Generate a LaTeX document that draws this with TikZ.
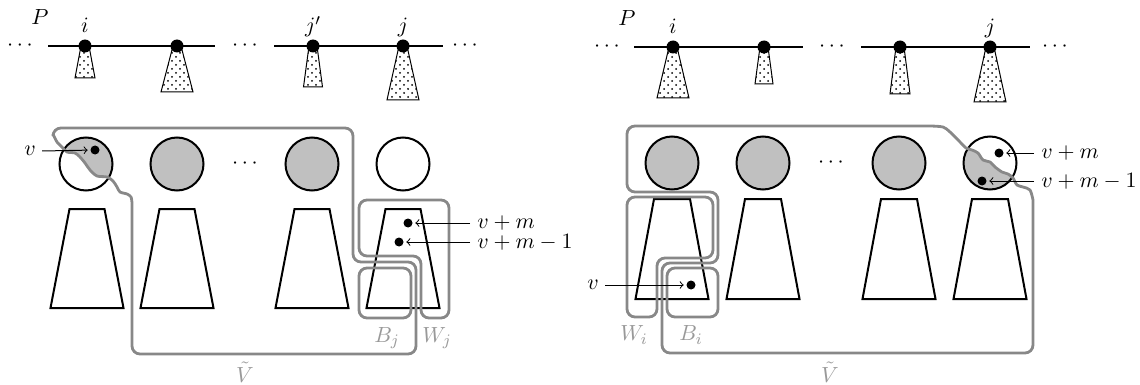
\documentclass[tikz,border=0pt,11pt]{standalone}
\usetikzlibrary{patterns}
\pgfdeclarepatternformonly{sdots}{\pgfqpoint{-0.6pt}{-0.6pt}}{\pgfqpoint{4.6pt}{4.6pt}}{\pgfqpoint{4pt}{4pt}}{%
 \pgfpathcircle{\pgfqpoint{0pt}{0pt}}{0.5pt}\pgfpathcircle{\pgfqpoint{2pt}{2pt}}{0.5pt}\pgfusepath{fill}}
\definecolor{gline}{HTML}{888888}
\definecolor{glabel}{HTML}{999999}
\definecolor{cfill}{HTML}{C0C0C0}
\begin{document}
\begin{tikzpicture}[x=0.5pt,y=-0.5pt,
 pline/.style={line width=1pt},
 pnode/.style={circle,fill=black,inner sep=0pt,minimum size=6.5pt},
 tree/.style={draw,line width=0.5pt,pattern=sdots},
 bigc/.style={circle,draw,line width=1pt,inner sep=0pt,minimum size=26.5pt},
 gc/.style={bigc,fill=cfill},
 trap/.style={draw,line width=1pt,line join=miter},
 sdot/.style={circle,fill=black,inner sep=0pt,minimum size=4.5pt},
 gbox/.style={draw=gline,line width=1.4pt,rounded corners=4pt},
 gwig/.style={draw=gline,line width=1.4pt},
 glab/.style={text=glabel,inner sep=1pt},
 tlab/.style={inner sep=1pt},
 arr/.style={->,line width=0.5pt,shorten >=1.2pt},
]
\useasboundingbox (0,0) rectangle (1140,385);

% ================= LEFT PANEL =================
\node[tlab] (ld1) at (20,46) {$\cdots$};
\node[tlab] (ld2) at (245,46) {$\cdots$};
\node[tlab] (ld3) at (465,46) {$\cdots$};
\coordinate (la1) at (48,46); \coordinate (lb1) at (215,46);
\coordinate (la2) at (274,46); \coordinate (lb2) at (443,46);
\draw[pline] (la1) -- (lb1);
\draw[pline] (la2) -- (lb2);
\foreach \x/\w/\b in {85/20/78, 177/32/92, 313/19/87, 403/32/100}
  \draw[tree] (\x-4,46) -- (\x+4,46) -- (\x+\w/2,\b) -- (\x-\w/2,\b) -- cycle;
\node[pnode] (lp1) at (85,46) {};
\node[pnode] (lp2) at (177,46) {};
\node[pnode] (lp3) at (313,46) {};
\node[pnode] (lp4) at (403,46) {};
\node[tlab,anchor=base] (lP) at (40,25) {$P$};
\node[tlab,anchor=base] (li) at (85,33) {$i$};
\node[tlab,anchor=base] (ljp) at (313,33) {$j'$};
\node[tlab,anchor=base] (lj) at (403,33) {$j$};

% circles
\begin{scope}
 \clip (86,164) circle[radius=13.25pt];
 \fill[cfill] plot[smooth] coordinates {(53,134) (57,142) (62,147) (67,152) (75,153) (80,157) (85,163) (90,170) (97,176) (107,177) (113,181) (117,187) (120,192) (127,194) (131,197) (132,203)}
   -- (160,203) -- (160,110) -- (53,110) -- cycle;
\end{scope}
\node[bigc] (lc1) at (86,164) {};
\node[gc] (lc2) at (177,164) {};
\node[tlab] (lcd) at (245,164) {$\cdots$};
\node[gc] (lc3) at (312,164) {};
\node[bigc] (lc4) at (403,164) {};

% trapezoids
\foreach \x in {87,177,312,403}
  \draw[trap] (\x-17.5,209) -- (\x+17.5,209) -- (\x+36.5,308) -- (\x-36.5,308) -- cycle;

% gray regions
\draw[gwig] plot[smooth] coordinates {(53,134) (57,142) (62,147) (67,152) (75,153) (80,157) (85,163) (90,170) (97,176) (107,177) (113,181) (117,187) (120,192) (127,194) (131,197) (132,203)}
  [rounded corners=4pt] -- (132,354) -- (416,354) -- (416,262) -- (353,262) -- (353,128) -- (53,128) -- (53,134);
\draw[gbox] (359,200) -- (449,200) -- (449,318) -- (421,318) -- (421,256) -- (359,256) -- cycle;
\draw[gbox] (359,268) -- (411,268) -- (411,318) -- (359,318) -- cycle;
\node[glab] (lBj) at (387,338) {$B_j$};
\node[glab] (lWj) at (437,338) {$W_j$};
\node[glab] (lVt) at (245,372) {$\tilde V$};

% points and arrows
\node[sdot] (lv) at (95,150) {};
\node[tlab] (lvt) at (30,151) {$v$};
\draw[arr] ([xshift=2pt]lvt.east) -- (lv);
\node[sdot] (lvm) at (408,223) {};
\node[sdot] (lvm1) at (399,242) {};
\node[tlab,anchor=west] (lvmt) at (475,223) {$v+m$};
\node[tlab,anchor=west] (lvm1t) at (475,242) {$v+m-1$};
\draw[arr] ([xshift=-2.5pt]lvmt.west) -- (lvm);
\draw[arr] ([xshift=-2.5pt]lvm1t.west) -- (lvm1);

% ================= RIGHT PANEL =================
\node[tlab] (rd1) at (607,47) {$\cdots$};
\node[tlab] (rd2) at (832,47) {$\cdots$};
\node[tlab] (rd3) at (1055,47) {$\cdots$};
\coordinate (ra1) at (634,47); \coordinate (rb1) at (803,47);
\coordinate (ra2) at (861,47); \coordinate (rb2) at (1030,47);
\draw[pline] (ra1) -- (rb1);
\draw[pline] (ra2) -- (rb2);
\foreach \x/\w/\b in {673/32/98, 764/18/84, 900/20/94, 990/32/102}
  \draw[tree] (\x-4,47) -- (\x+4,47) -- (\x+\w/2,\b) -- (\x-\w/2,\b) -- cycle;
\node[pnode] (rp1) at (673,47) {};
\node[pnode] (rp2) at (764,47) {};
\node[pnode] (rp3) at (900,47) {};
\node[pnode] (rp4) at (990,47) {};
\node[tlab,anchor=base] (rP) at (627,26) {$P$};
\node[tlab,anchor=base] (ri) at (673,34) {$i$};
\node[tlab,anchor=base] (rj) at (990,34) {$j$};

\node[gc] (rc1) at (672,163) {};
\node[gc] (rc2) at (763,163) {};
\node[tlab] (rcd) at (831,163) {$\cdots$};
\node[gc] (rc3) at (899,163) {};
\begin{scope}
 \clip (990,163) circle[radius=13.25pt];
 \fill[cfill] plot[smooth] coordinates {(935,126) (943,127) (950,132) (960,142) (966,148) (972,150) (978,153) (983,160) (990,162) (995,167) (1002,172) (1008,174) (1013,178) (1017,185) (1023,187) (1030,190) (1033,200)}
   -- (1033,260) -- (900,260) -- (900,126) -- cycle;
\end{scope}
\node[bigc] (rc4) at (990,163) {};

\foreach \x in {672,763,899,990}
  \draw[trap] (\x-18,199) -- (\x+18,199) -- (\x+36.5,299) -- (\x-36.5,299) -- cycle;

\draw[gwig] plot[smooth] coordinates {(930,126) (943,127) (950,132) (960,142) (966,148) (972,150) (978,153) (983,160) (990,162) (995,167) (1002,172) (1008,174) (1013,178) (1017,185) (1023,187) (1030,190) (1033,200)}
  [rounded corners=4pt] -- (1033,353) -- (662,353) -- (662,263) -- (718,263) -- (718,192) -- (627,192) -- (627,126) -- (930,126);
\draw[gbox] (627,197) -- (713,197) -- (713,258) -- (657,258) -- (657,317) -- (627,317) -- cycle;
\draw[gbox] (667,268) -- (718,268) -- (718,317) -- (667,317) -- cycle;
\node[glab] (rWi) at (634,335) {$W_i$};
\node[glab] (rBi) at (691,335) {$B_i$};
\node[glab] (rVt) at (830,372) {$\tilde V$};

\node[sdot] (rv) at (691,285) {};
\node[tlab] (rvt) at (593,285) {$v$};
\draw[arr] ([xshift=2pt]rvt.east) -- (rv);
\node[sdot] (rvm) at (999,153) {};
\node[sdot] (rvm1) at (982,181) {};
\node[tlab,anchor=west] (rvmt) at (1039,153) {$v+m$};
\node[tlab,anchor=west] (rvm1t) at (1039,181) {$v+m-1$};
\draw[arr] ([xshift=-2.5pt]rvmt.west) -- (rvm);
\draw[arr] ([xshift=-2.5pt]rvm1t.west) -- (rvm1);
\end{tikzpicture}
\end{document}
